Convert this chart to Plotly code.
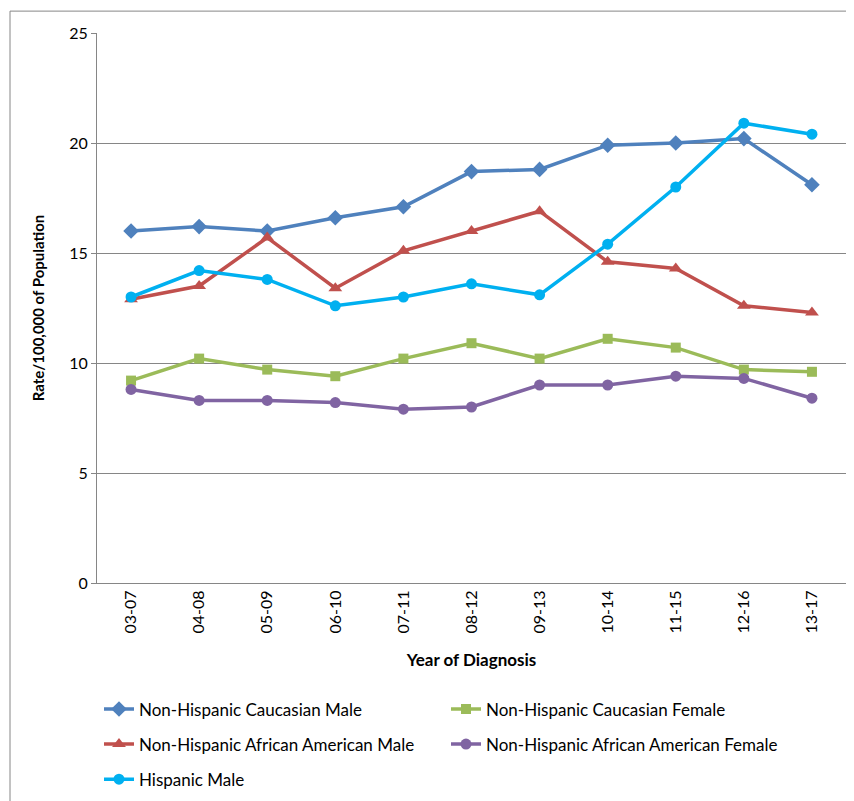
import plotly.graph_objects as go

# period labels on the x axis
years = ["03-07", "04-08", "05-09", "06-10", "07-11", "08-12",
         "09-13", "10-14", "11-15", "12-16", "13-17"]

cauc_male = [16.0, 16.2, 16.0, 16.6, 17.1, 18.7, 18.8, 19.9, 20.0, 20.2, 18.1]
cauc_female = [9.2, 10.2, 9.7, 9.4, 10.2, 10.9, 10.2, 11.1, 10.7, 9.7, 9.6]
aa_male = [12.9, 13.5, 15.7, 13.4, 15.1, 16.0, 16.9, 14.6, 14.3, 12.6, 12.3]
aa_female = [8.8, 8.3, 8.3, 8.2, 7.9, 8.0, 9.0, 9.0, 9.4, 9.3, 8.4]
hisp_male = [13.0, 14.2, 13.8, 12.6, 13.0, 13.6, 13.1, 15.4, 18.0, 20.9, 20.4]

FONT = "Lato, 'Open Sans', sans-serif"
GRAY = "#868686"

W, H = 854, 801
OFF = 8  # page body margin shifts the figure by 8px
L, R, T, B = 97 - OFF, 16, 33 - OFF, 223
pw, ph = W - L - R, H - T - B


def fx(x):
    # figure px -> paper x
    return (x - L) / pw


def fy(y):
    # figure px -> paper y
    return (H - B - y) / ph


series = [
    # name, values, color, symbol, size, legend
    ("Non-Hispanic Caucasian Male", cauc_male, "#4F81BD", "diamond", 12, "legend"),
    ("Non-Hispanic African American Male", aa_male, "#C0504D", "triangle-up", 12, "legend"),
    ("Hispanic Male", hisp_male, "#00B0F0", "circle", 11, "legend"),
    ("Non-Hispanic Caucasian Female", cauc_female, "#9BBB59", "square", 10, "legend2"),
    ("Non-Hispanic African American Female", aa_female, "#8064A2", "circle", 11, "legend2"),
]

fig = go.Figure()
for name, vals, color, sym, size, leg in series:
    fig.add_trace(go.Scatter(
        x=years, y=vals, name=name, mode="lines+markers",
        line=dict(color=color, width=3.5),
        marker=dict(symbol=sym, size=size, color=color),
        legend=leg, legendgroup=name,
    ))

legend_style = dict(
    xanchor="left", yanchor="top",
    tracegroupgap=10, font=dict(size=17), bgcolor="rgba(0,0,0,0)",
)

fig.update_layout(
    width=W, height=H,
    margin=dict(l=L, r=R, t=T, b=B),
    plot_bgcolor="white", paper_bgcolor="white",
    font=dict(family=FONT, size=16, color="black"),
    xaxis=dict(
        type="category", range=[-0.5, 10.5], tickangle=-90,
        showline=True, linecolor=GRAY, linewidth=1,
        showgrid=False, ticks="", tickfont=dict(size=16),
        title=dict(text="<b>Year of Diagnosis</b>", font=dict(size=17), standoff=21),
    ),
    yaxis=dict(
        range=[0, 25], dtick=5, showline=True, linecolor=GRAY, linewidth=1,
        showgrid=True, gridcolor=GRAY, gridwidth=1, zeroline=False,
        ticks="outside", ticklen=5, tickcolor=GRAY, tickfont=dict(size=16),
        title=dict(text="<b>Rate/100,000 of Population</b>", font=dict(size=15), standoff=20),
    ),
    legend=dict(x=fx(91), y=fy(687), **legend_style),
    legend2=dict(x=fx(438), y=fy(687), **legend_style),
    shapes=[
        # chart area border (only top and left are visible in the original)
        dict(type="line", xref="paper", yref="paper",
             x0=fx(2), x1=fx(W), y0=fy(3), y1=fy(3),
             line=dict(color=GRAY, width=1)),
        dict(type="line", xref="paper", yref="paper",
             x0=fx(2), x1=fx(2), y0=fy(3), y1=fy(H),
             line=dict(color=GRAY, width=1)),
    ],
)

fig.write_html("out.html")
